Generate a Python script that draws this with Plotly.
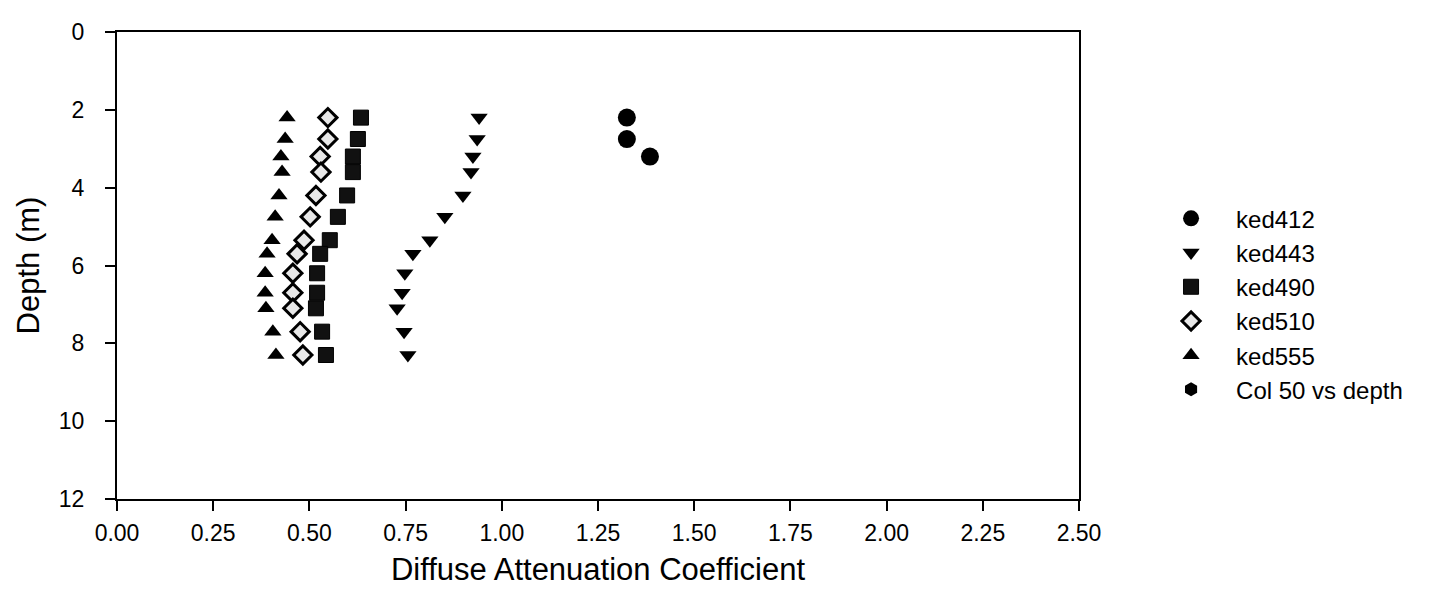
import plotly.graph_objects as go

depth = [2.2, 2.75, 3.2, 3.6, 4.2, 4.75, 5.35, 5.7, 6.2, 6.7, 7.1, 7.7, 8.3]
depth412 = [2.2, 2.75, 3.2]

ked412 = [1.325, 1.325, 1.385]
ked443 = [0.941, 0.936, 0.925, 0.920, 0.899, 0.852, 0.813, 0.769, 0.748, 0.741, 0.728, 0.746, 0.756]
ked490 = [0.634, 0.626, 0.613, 0.613, 0.598, 0.574, 0.553, 0.528, 0.520, 0.520, 0.517, 0.533, 0.543]
ked510 = [0.548, 0.548, 0.528, 0.530, 0.517, 0.502, 0.486, 0.468, 0.457, 0.457, 0.457, 0.476, 0.483]
ked555 = [0.442, 0.437, 0.426, 0.429, 0.421, 0.411, 0.403, 0.390, 0.385, 0.385, 0.387, 0.405, 0.413]
col50_x = [None]
col50_y = [None]

x_ticks = [0, 0.25, 0.5, 0.75, 1.0, 1.25, 1.5, 1.75, 2.0, 2.25, 2.5]
x_ticklabels = ["0.00", "0.25", "0.50", "0.75", "1.00", "1.25", "1.50", "1.75", "2.00", "2.25", "2.50"]
y_ticks = [0, 2, 4, 6, 8, 10, 12]

FONT = "Liberation Sans, Arial, Helvetica, sans-serif"

fig = go.Figure()
series = [
    ("ked412", ked412, depth412, dict(symbol="circle", size=18, color="black")),
    ("ked443", ked443, depth, dict(symbol="triangle-down", size=15, color="black")),
    ("ked490", ked490, depth, dict(symbol="square", size=15, color="#111111",
                                   line=dict(color="black", width=1))),
    ("ked510", ked510, depth, dict(symbol="diamond", size=14, color="#e8e8e8",
                                   line=dict(color="black", width=3))),
    ("ked555", ked555, depth, dict(symbol="triangle-up", size=15, color="black")),
]
for name, xs, ys, mk in series:
    fig.add_trace(go.Scatter(x=xs, y=ys, mode="markers", name=name, marker=mk,
                             legendgroup=name))
fig.add_trace(go.Scatter(x=col50_x, y=col50_y, mode="markers", name="Col 50 vs depth",
                         marker=dict(symbol="hexagon", size=14, color="black"),
                         legendgroup="col50"))

fig.update_layout(
    width=1430, height=596,
    margin=dict(l=109, r=359, t=11, b=105),
    paper_bgcolor="white", plot_bgcolor="white",
    font=dict(family=FONT, color="black", size=23),
    showlegend=True,
    legend=dict(x=1.0697, y=0.417, xanchor="left", yanchor="middle",
                font=dict(size=24, family=FONT), tracegroupgap=0,
                traceorder="grouped", itemsizing="trace", itemwidth=80,
                bgcolor="rgba(0,0,0,0)"),
    xaxis=dict(range=[0, 2.5], tickmode="array", tickvals=x_ticks, ticktext=x_ticklabels,
               tickfont=dict(size=23, family=FONT),
               ticks="outside", ticklen=10, tickwidth=1.5, tickcolor="black",
               ticklabelstandoff=2,
               showline=True, linewidth=2, linecolor="black", mirror=True,
               showgrid=False, zeroline=False,
               title=dict(text="Diffuse Attenuation Coefficient", font=dict(size=31), standoff=14)),
    yaxis=dict(range=[12, 0], tickmode="array", tickvals=y_ticks,
               tickfont=dict(size=23, family=FONT),
               ticks="outside", ticklen=10, tickwidth=1.5, tickcolor="black",
               ticklabelstandoff=16,
               showline=True, linewidth=2, linecolor="black", mirror=True,
               showgrid=False, zeroline=False,
               title=dict(text="Depth (m)", font=dict(size=31), standoff=10)),
)

fig.write_html("out.html")
